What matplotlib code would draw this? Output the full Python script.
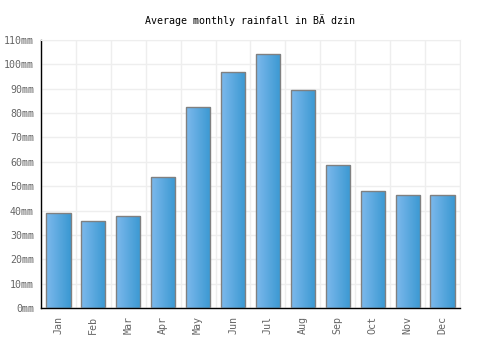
import matplotlib
matplotlib.use("Agg")
import matplotlib.pyplot as plt
import numpy as np
from matplotlib.colors import LinearSegmentedColormap

months = ["Jan", "Feb", "Mar", "Apr", "May", "Jun", "Jul", "Aug", "Sep", "Oct", "Nov", "Dec"]
rainfall = [39, 35.7, 37.8, 53.8, 82.5, 96.9, 104.3, 89.5, 58.7, 48, 46.4, 46.4]
yticks = list(range(0, 111, 10))
title = "Average monthly rainfall in BÄ dzin"

plt.rcParams['font.family'] = ['DejaVu Sans Mono']
fig = plt.figure(figsize=(5, 3.5), dpi=100)
ax = fig.add_axes([0.082, 0.12, 0.838, 0.766])
x = np.arange(len(months))
w = 0.69
bars = ax.bar(x, rainfall, width=w, color='none', edgecolor='#808080', linewidth=1, zorder=3)
cmap = LinearSegmentedColormap.from_list('g', ['#7db9ec', '#3a98d2'])
grad = np.linspace(0, 1, 64).reshape(1, -1)
for b in bars:
    x0, y0 = b.get_x(), b.get_y()
    im = ax.imshow(grad, cmap=cmap, aspect='auto', extent=(x0, x0 + b.get_width(), y0, y0 + b.get_height()), zorder=2)
    im.set_clip_path(b)
ax.set_xlim(-0.5, len(months) - 0.5)
ax.set_ylim(0, 110)
ax.set_yticks(yticks)
ax.set_yticklabels([f"{v}mm" for v in yticks])
ax.set_xticks(x)
ax.set_xticklabels(months, rotation=90)
ax.set_xticks(np.arange(-0.5, len(months), 1), minor=True)
ax.grid(True, axis='y', color='#eeeeee', linewidth=1, zorder=0)
ax.grid(True, axis='x', which='minor', color='#eeeeee', linewidth=1, zorder=0)
ax.tick_params(axis='both', which='both', length=0, colors='#666666', labelsize=7.2)
ax.tick_params(axis='y', pad=5)
ax.tick_params(axis='x', pad=6)
for s in ['top', 'right']:
    ax.spines[s].set_color('#eeeeee')
for s in ['left', 'bottom']:
    ax.spines[s].set_color('black')
    ax.spines[s].set_linewidth(1)
fig.text(0.5, 0.943, title, ha='center', va='center', fontsize=7.2, color='black')
fig.savefig("out.png", dpi=100)
